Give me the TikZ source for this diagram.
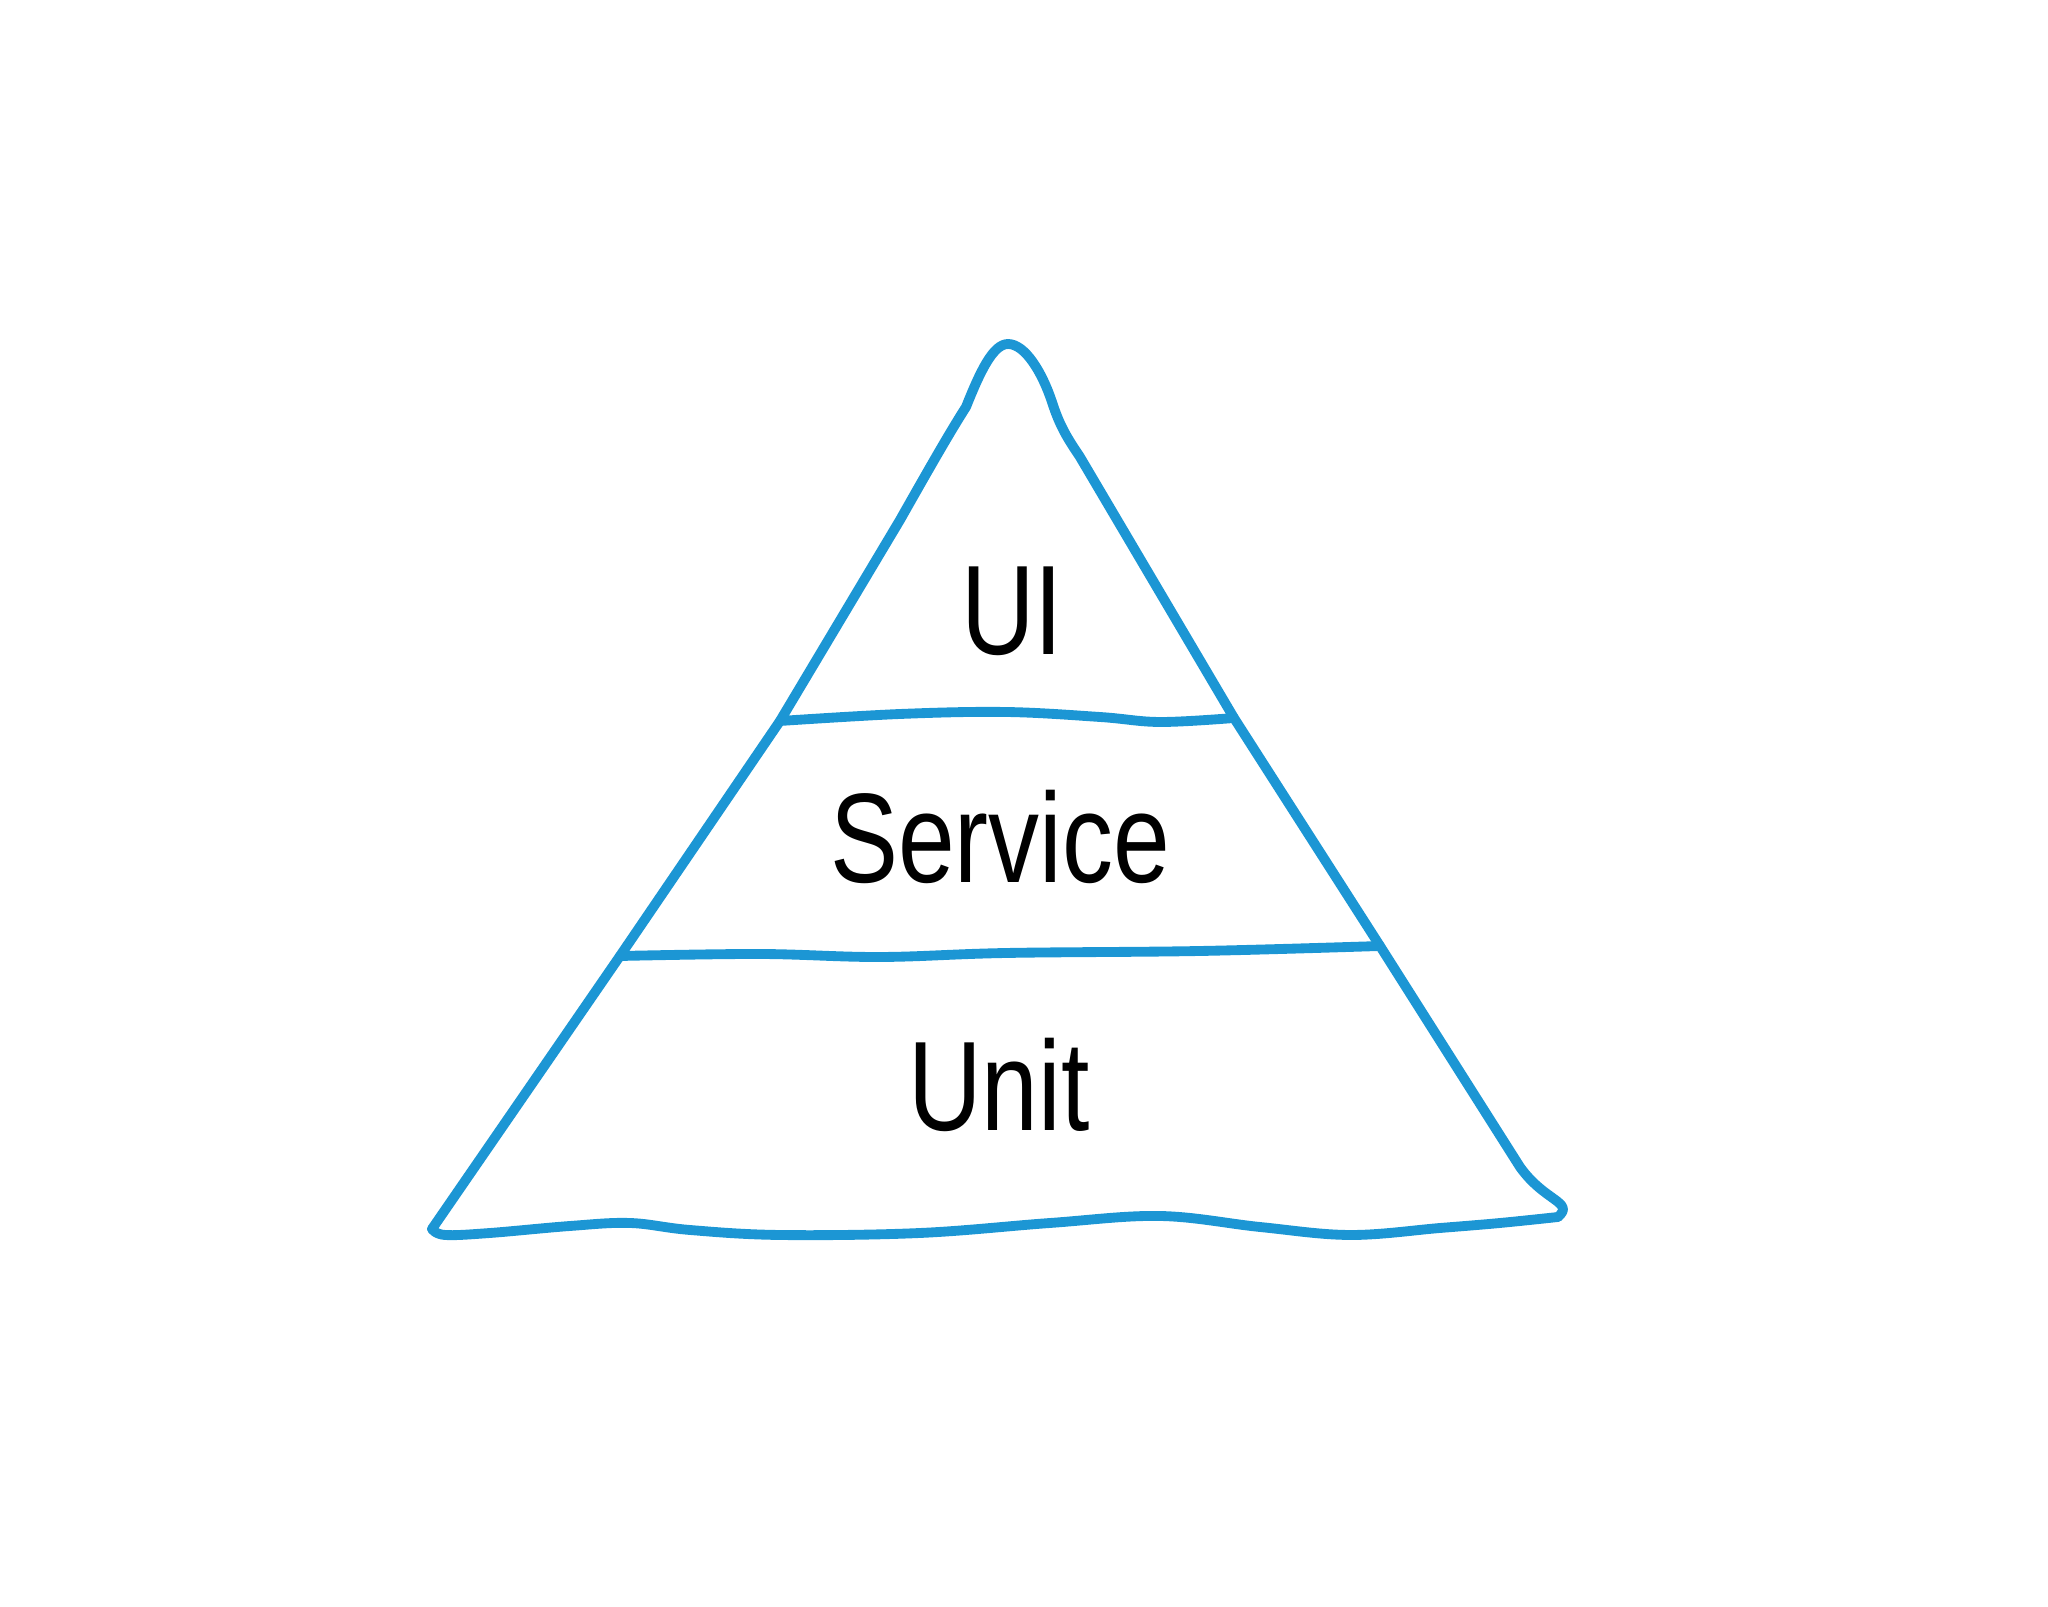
\documentclass[tikz,border=0pt]{standalone}
\usepackage{fontspec}
\setmainfont{Liberation Sans}
\definecolor{pyrblue}{RGB}{28,150,212}

\begin{document}
\begin{tikzpicture}[pen/.style={color=pyrblue, line width=2.8pt, line join=round, line cap=round},
	layer/.style={yscale=1.25, transform shape, font=\fontsize{29}{34}\selectfont}]
	\useasboundingbox (0,0) rectangle (20.48,16.07);
	\coordinate (bl) at (4.32,3.78);
	\coordinate (l2) at (6.2,6.51);
	\coordinate (l1) at (7.8,8.86);
	\coordinate (r1) at (12.34,8.89);
	\coordinate (r2) at (13.8,6.61);
	\coordinate (br) at (15.58,3.9);
	% sides of the pyramid
	\draw[pen] (bl) -- (l2) -- (l1) -- (9.0,10.87) .. controls (9.3,11.4) and (9.5,11.75) .. (9.66,12.0)
		.. controls (9.8,12.35) and (9.93,12.63) .. (10.08,12.63) .. controls (10.25,12.63) and (10.42,12.35) .. (10.52,12.05)
		.. controls (10.6,11.8) and (10.68,11.68) .. (10.8,11.5) -- (r1) -- (r2) -- (15.2,4.4)
		.. controls (15.45,4.05) and (15.75,4.05) .. (br);
	% base
	\draw[pen] plot[smooth, tension=0.6] coordinates {(br) (15.0,3.84) (14.4,3.79) (13.5,3.72) (12.6,3.80) (11.6,3.91)
		(10.5,3.84) (9.2,3.74) (7.8,3.72) (6.9,3.77) (6.3,3.84) (5.7,3.81) (4.9,3.74) (4.45,3.72) (bl)};
	% layer borders
	\draw[pen] plot[smooth, tension=0.6] coordinates {(l1) (9.0,8.93) (10.06,8.95) (11.0,8.9) (11.6,8.85) (r1)};
	\draw[pen] plot[smooth, tension=0.6] coordinates {(l2) (7.6,6.53) (8.8,6.5) (10.06,6.54) (12.0,6.56) (r2)};
	% layer names
	\node[layer] (ui) at (10.12,9.96) {UI};
	\node[layer] (service) at (10.0,7.70) {Service};
	\node[layer] (unit) at (9.99,5.22) {Unit};
\end{tikzpicture}
\end{document}
